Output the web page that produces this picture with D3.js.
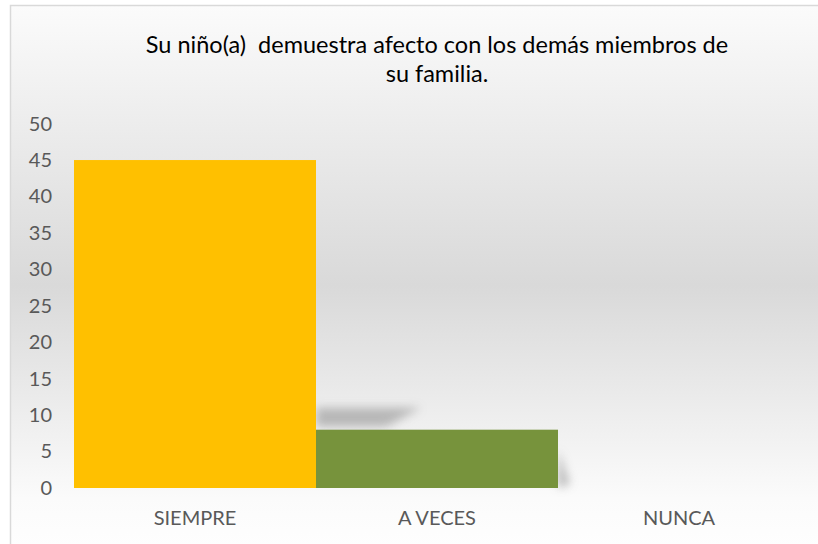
<!DOCTYPE html>
<html>
<head>
<meta charset="utf-8">
<script src="https://cdn.jsdelivr.net/npm/d3@7"></script>
<style>
  body { margin: 0; background: #fff; }
  svg { display: block; font-family: Lato, "Open Sans", sans-serif; }
</style>
</head>
<body>
<svg id="chart" width="818" height="544"></svg>
<script>
const categories = ["SIEMPRE", "A VECES", "NUNCA"];
const values = [45, 8, 0];
const yTicks = [0, 5, 10, 15, 20, 25, 30, 35, 40, 45, 50];
const titleLines = ["Su niño(a)  demuestra afecto con los demás miembros de", "su familia."];
const barColors = ["#ffc000", "#77933c", "#4f81bd"];

const svg = d3.select("#chart");
const defs = svg.append("defs");

const grad = defs.append("linearGradient")
  .attr("id", "bg").attr("x1", 0).attr("y1", 0).attr("x2", 0).attr("y2", 1);
grad.append("stop").attr("offset", "0").attr("stop-color", "#fbfbfb");
grad.append("stop").attr("offset", "0.5").attr("stop-color", "#d9d9d9");
grad.append("stop").attr("offset", "0.88").attr("stop-color", "#fbfbfb");
grad.append("stop").attr("offset", "1").attr("stop-color", "#ffffff");

defs.append("filter").attr("id", "blur")
  .attr("x", "-50%").attr("y", "-50%").attr("width", "200%").attr("height", "200%")
  .append("feGaussianBlur").attr("stdDeviation", 5);

// chart frame
svg.append("rect")
  .attr("x", 10.5).attr("y", 5.5)
  .attr("width", 830).attr("height", 560)
  .attr("fill", "url(#bg)")
  .attr("stroke", "#d9d9d9").attr("stroke-width", 1.5);

const x = d3.scaleBand().domain(categories).range([74, 800]).padding(0);
const y = d3.scaleLinear().domain([0, 50]).range([488, 123.6]);

// title
svg.append("g").selectAll("text")
  .data(titleLines)
  .join("text")
  .attr("x", 437)
  .attr("y", (d, i) => 53 + i * 29)
  .attr("text-anchor", "middle")
  .attr("fill", "#000")
  .attr("font-size", "23.5px")
  .style("white-space", "pre")
  .text(d => d);

// soft shadow of the middle bar (the tall first bar hides the others)
const shadows = svg.append("g").attr("filter", "url(#blur)").attr("opacity", 0.7);
categories.forEach((c, i) => {
  const v = values[i];
  if (i === 0 || v <= 0) return;
  const x0 = x(c), x1 = x(c) + x.bandwidth();
  shadows.append("path")
    .attr("d", `M${x0},${y(v) - 3} L${x0},${y(v) - 22} L${x0 + 105},${y(v) - 22} L${x0 + 70},${y(v) - 3} Z`)
    .attr("fill", "#a0a0a0");
  shadows.append("path")
    .attr("d", `M${x1},${y(0)} L${x1},${y(v) + 20} L${x1 + 12},${y(0) - 4} Z`)
    .attr("fill", "#a0a0a0");
});

// bars
svg.append("g").selectAll("rect")
  .data(values)
  .join("rect")
  .attr("x", (d, i) => x(categories[i]))
  .attr("y", d => y(d))
  .attr("width", x.bandwidth())
  .attr("height", d => y(0) - y(d))
  .attr("fill", (d, i) => barColors[i]);

// y axis
const yAxis = d3.axisLeft(y).tickValues(yTicks).tickSize(0).tickPadding(0);
const yg = svg.append("g").attr("transform", "translate(52,0)").call(yAxis);
yg.select(".domain").remove();
yg.selectAll("text")
  .attr("fill", "#595959")
  .attr("font-size", "20px")
  .attr("font-family", "Lato, 'Open Sans', sans-serif");

// x axis
const xAxis = d3.axisBottom(x).tickSize(0).tickPadding(0);
const xg = svg.append("g").attr("transform", "translate(0,511)").call(xAxis);
xg.select(".domain").remove();
xg.selectAll("text")
  .attr("fill", "#595959")
  .attr("font-size", "20px")
  .attr("font-family", "Lato, 'Open Sans', sans-serif");
</script>
</body>
</html>
